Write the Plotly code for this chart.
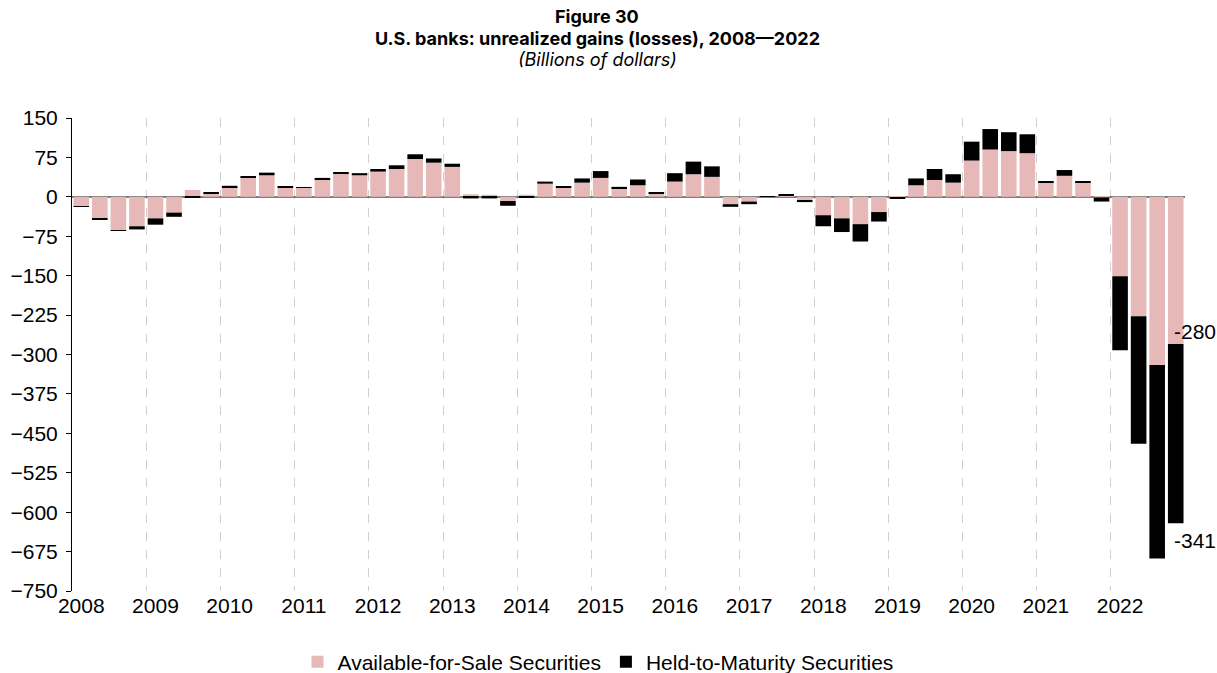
import plotly.graph_objects as go

years = [str(y) for y in range(2008, 2023)]
quarters = [f"{y}Q{q}" for y in range(2008, 2023) for q in range(1, 5)]

afs = [-18, -42, -64, -56,
       -41, -30, 13, 6,
       18, 36, 41, 18,
       17, 33, 45, 41,
       48, 53, 72, 65,
       57, 5, 4, -8,
       4, 25, 18, 27,
       36, 16, 22, 6,
       29, 43, 38, -14,
       -9, 1, 3, -6,
       -35, -41, -52, -29,
       -1, 22, 32, 27,
       69, 90, 87, 83,
       28, 40, 27, -1,
       -151, -227, -320, -280]

htm = [-1, -1, -1, -6,
       -12, -8, -1, 2,
       3, 3, 5, 2,
       1, 3, 2, 4,
       5, 7, 9, 8,
       6, -3, -3, -9,
       -2, 4, 2, 8,
       13, 3, 11, 3,
       16, 24, 20, -5,
       -5, 0.5, 1, -4,
       -21, -26, -33, -18,
       -2, 13, 21, 16,
       36, 39, 36, 36,
       1, 11, 2, -8,
       -141, -243, -368, -341]

y_ticks = list(range(-750, 151, 75))

title_lines = ["<b>Figure 30</b>",
               "<b>U.S. banks: unrealized gains (losses), 2008—2022</b>",
               "<i>(Billions of dollars)</i>"]

n = len(quarters)
xs = list(range(n))
label_pos = list(range(0, n, 4))
boundaries = [i - 0.5 for i in range(0, n + 1, 4)]

AFS_COLOR = "#E6B8B7"
HTM_COLOR = "#000000"
ARIAL = "Liberation Sans, Arial, sans-serif"
TICK_FONT = dict(family=ARIAL, size=21, color="#000000")

W, H = 1217, 673
L, R, T, B = 72, 32, 118, 82
plot_h = H - T - B
plot_w = W - L - R

fig = go.Figure()
fig.add_trace(go.Bar(x=xs, y=afs, name="Available-for-Sale Securities",
                     marker=dict(color=AFS_COLOR, line=dict(width=0)),
                     hovertext=quarters))
fig.add_trace(go.Bar(x=xs, y=htm, name="Held-to-Maturity Securities",
                     marker=dict(color=HTM_COLOR, line=dict(width=0)),
                     hovertext=quarters))

# data labels for the last quarter
fig.add_annotation(x=xs[-1], y=afs[-1], text=str(afs[-1]), showarrow=False,
                   xanchor="left", yanchor="middle", xshift=-4, yshift=12,
                   font=dict(family=ARIAL, size=21, color="#000"))
fig.add_annotation(x=xs[-1], y=afs[-1] + htm[-1], text=str(htm[-1]), showarrow=False,
                   xanchor="left", yanchor="middle", xshift=-4, yshift=-17,
                   font=dict(family=ARIAL, size=21, color="#000"))

# title lines
for txt, yc in zip(title_lines, [16, 38, 60]):
    fig.add_annotation(xref="paper", yref="paper",
                       x=(597 - L) / plot_w, y=1 + (T - yc) / plot_h,
                       text=txt, showarrow=False, xanchor="center", yanchor="middle",
                       font=dict(family="Inter, Lato, sans-serif", size=18, color="#000"))

zero_frac = (0 - y_ticks[0]) / (y_ticks[-1] - y_ticks[0])

fig.update_layout(
    width=W, height=H,
    margin=dict(l=L, r=R, t=T, b=B, autoexpand=False),
    paper_bgcolor="white", plot_bgcolor="white",
    barmode="relative", bargap=0.16,
    showlegend=True,
    legend=dict(orientation="h", x=(598 - L) / plot_w, xanchor="center",
                y=-(662 - (H - B)) / plot_h, yanchor="middle",
                font=dict(family=ARIAL, size=21, color="#000"),
                traceorder="normal", bgcolor="rgba(0,0,0,0)"),
    xaxis=dict(range=[-0.5, n - 0.5], tickmode="array", tickvals=label_pos, ticktext=years,
               showgrid=False, showline=False, zeroline=False, ticks="",
               tickfont=TICK_FONT, automargin=False,
               minor=dict(tickmode="array", tickvals=boundaries, showgrid=True,
                          gridcolor="#D0D0D0", griddash="dash", gridwidth=1, ticks="")),
    xaxis2=dict(range=[-0.5, n - 0.5], overlaying="x", anchor="free", position=zero_frac,
                tickmode="array", tickvals=boundaries, ticks="outside", ticklen=5,
                tickwidth=2, tickcolor="#595959", showticklabels=False,
                showgrid=False, showline=False, zeroline=False),
    yaxis=dict(range=[y_ticks[0], y_ticks[-1]], tickmode="array", tickvals=y_ticks,
               showgrid=False, showline=True, linecolor="#000", linewidth=1,
               ticks="outside", ticklen=5, tickcolor="#000", ticklabelstandoff=4,
               zeroline=True, zerolinecolor="#7F7F7F", zerolinewidth=2,
               layer="above traces", tickfont=TICK_FONT, automargin=False),
)

fig.write_html("out.html", config={"displayModeBar": False},
               post_script="document.body.style.margin='0';document.body.style.overflow='hidden';")
